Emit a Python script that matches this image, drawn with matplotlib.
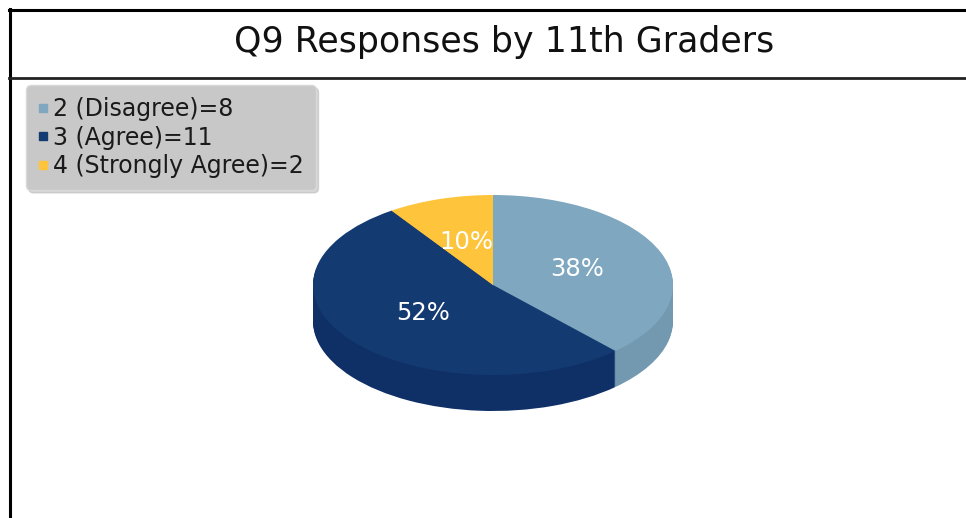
import matplotlib
matplotlib.use('Agg')
import matplotlib.pyplot as plt
from matplotlib.lines import Line2D

title = "Q9 Responses by 11th Graders"
categories = ["2 (Disagree)", "3 (Agree)", "4 (Strongly Agree)"]
counts = [8, 11, 2]
top_colors = ["#7fa7bf", "#143a72", "#fec43c"]
side_colors = ["#7299b0", "#0e3066", "#e0aa30"]

W, H = 966, 518
fig = plt.figure(figsize=(W / 100, H / 100), dpi=100)
fig.patch.set_facecolor('white')

# pie geometry (pixels)
cx, cy = 493, 285
rx, ry = 180, 90
depth = 36
lim = 1.25
ylo = -lim - depth / ry
ax_w = 2 * lim * rx
ax_h = (lim - ylo) * ry
left = (cx - lim * rx) / W
bottom = (H - (cy - ylo * ry)) / H
ax = fig.add_axes([left, bottom, ax_w / W, ax_h / H])

for d in range(depth, 0, -1):
    ax.pie(counts, colors=side_colors, startangle=90, counterclock=False,
           center=(0, -d / ry), radius=1, wedgeprops=dict(linewidth=0))

ax.pie(counts, colors=top_colors, startangle=90, counterclock=False,
       center=(0, 0), radius=1, wedgeprops=dict(linewidth=0),
       autopct=lambda p: f"{p:.0f}%", pctdistance=0.5,
       textprops=dict(color='white', fontsize=17.5))
ax.set_aspect('auto')
ax.set_xlim(-lim, lim)
ax.set_ylim(ylo, lim)
ax.axis('off')

# frame lines
fig.add_artist(Line2D([9 / W, 1], [1 - 10 / H] * 2, transform=fig.transFigure,
                      color='black', lw=2.2))
fig.add_artist(Line2D([10 / W] * 2, [0, 1 - 9 / H], transform=fig.transFigure,
                      color='black', lw=2.2))
fig.add_artist(Line2D([9 / W, 1], [1 - 78 / H] * 2, transform=fig.transFigure,
                      color='#222222', lw=2.0))

# title
fig.text(504 / W, 1 - 42 / H, title, ha='center', va='center',
         fontsize=25, color='#111111')

# legend
labels = [f"{c}={v}" for c, v in zip(categories, counts)]
handles = [Line2D([], [], marker='s', linestyle='none', markersize=6,
                  markerfacecolor=c, markeredgecolor=c) for c in top_colors]
leg = fig.legend(handles, labels, loc='upper left',
                 bbox_to_anchor=(26 / W, 1 - 85 / H), borderaxespad=0,
                 fontsize=17, handlelength=0.4, handletextpad=0.25,
                 labelspacing=0.2, borderpad=0.5,
                 fancybox=True, framealpha=1, facecolor='#c8c8c8',
                 edgecolor='#d8d8d8', shadow={'color': '#bbbbbb', 'alpha': 0.6})
for t in leg.get_texts():
    t.set_color('#1a1a1a')

fig.savefig('out.png', dpi=100, facecolor='white')
